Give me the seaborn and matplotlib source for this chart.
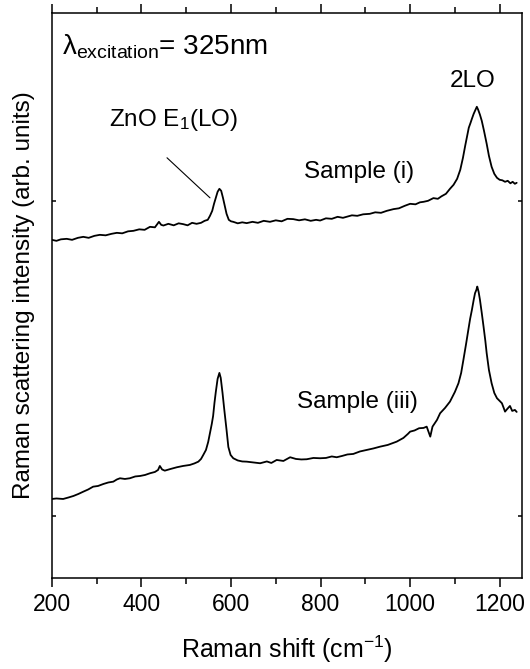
import matplotlib
matplotlib.use("Agg")
import matplotlib.pyplot as plt
from matplotlib.ticker import MultipleLocator
import numpy as np
import pandas as pd
import seaborn as sns

## --- spectra (x in cm^-1, y in arbitrary units)

shift_i = [200, 210, 220, 233, 245, 258, 270, 282, 295, 307, 320, 333, 345, 357,
           370, 382, 395, 407, 419, 430, 439, 444, 449, 460, 472, 483, 493, 503,
           513, 523, 533, 541, 548, 553, 558, 562, 566, 570, 574, 578, 582, 586,
           590, 595, 600, 605, 615, 625, 635, 648, 660, 673, 687, 700, 713, 726,
           739, 752, 765, 778, 790, 799, 812, 825, 838, 850, 858, 870, 882, 895,
           910, 922, 935, 948, 963, 975, 988, 1000, 1012, 1022, 1030, 1040, 1052,
           1062, 1070, 1080, 1089, 1097, 1105, 1112, 1118, 1123, 1127, 1131, 1135,
           1138, 1142, 1146, 1149, 1152, 1156, 1160, 1165, 1171, 1176, 1182, 1188,
           1194, 1200, 1206, 1212, 1218, 1224, 1229, 1234, 1238]
intensity_i = [338, 337, 338.5, 339, 338, 340, 341, 340, 342, 343, 342.5, 344, 345,
               344.5, 346.5, 347, 348.5, 348, 351, 350.5, 356, 353, 352.3, 354,
               352.5, 354.5, 353.7, 352.5, 355, 354, 355, 357, 358, 362, 367, 374,
               380, 386, 389, 387, 380, 372, 364, 358, 356.5, 356, 354.5, 355.5,
               354.7, 356, 355, 357, 356, 357.5, 356.5, 359, 358.7, 357.5, 358.5,
               357, 358, 357.3, 359.5, 359, 361, 360, 361, 362.5, 362, 363.5, 364,
               365.5, 365, 367, 368.7, 369.5, 372, 374, 373.5, 375.5, 376, 377,
               379.7, 379, 381.5, 384, 389, 393, 399, 408, 420, 432, 441, 450, 455,
               459, 464, 468, 471, 468, 463, 457, 447, 434, 422, 411, 404, 400, 398,
               397.5, 396, 397, 394.5, 396, 394, 395]

shift_iii = [200, 210, 225, 237, 248, 259, 270, 281, 292, 303, 315, 326, 337, 345,
             352, 363, 374, 386, 397, 408, 419, 430, 437, 441, 446, 452, 465, 479,
             493, 508, 518, 527, 533, 538, 544, 549, 553, 557, 560, 563, 566, 570,
             574, 577, 581, 585, 590, 594, 599, 605, 615, 625, 635, 650, 665, 680,
             690, 702, 717, 732, 745, 757, 769, 784, 799, 812, 825, 836, 848, 860,
             873, 888, 903, 918, 933, 950, 970, 985, 995, 1000, 1010, 1020, 1030,
             1037, 1045, 1050, 1060, 1067, 1078, 1089, 1100, 1108, 1114, 1119, 1125,
             1130, 1134, 1138, 1142, 1145, 1148, 1150, 1153, 1156, 1160, 1164, 1168,
             1171, 1176, 1182, 1188, 1194, 1200, 1205, 1209, 1212, 1217, 1223, 1228,
             1234, 1238]
intensity_iii = [79, 79.5, 79, 80.5, 82, 84, 86.3, 88.5, 91.3, 92, 94, 95.5, 96.3,
                 98.5, 99.7, 99, 99.7, 101.5, 102, 103, 104.7, 106, 108, 112, 108.5,
                 107.3, 109, 110.7, 112, 113, 114.5, 116.3, 119, 123, 128, 136, 145,
                 154, 162, 175, 186, 199, 205, 200, 185, 168, 148, 131, 123, 119.7,
                 117.5, 116.5, 116.3, 115.5, 114.7, 116.5, 115, 118, 117, 120.7, 119,
                 118.5, 118.7, 120, 119.7, 120, 121.5, 120.7, 122, 123.5, 124, 126.5,
                 128, 129.5, 131.3, 133, 136.3, 140, 144, 146.3, 147.5, 149.7, 150,
                 151.3, 141.3, 151.3, 158, 164.7, 170, 176.3, 186, 194.7, 205, 218,
                 234, 248, 259, 268, 278, 284.7, 288, 291.3, 286, 278, 265, 251.3,
                 237, 224.7, 208, 194.7, 185, 179.7, 177, 174.7, 170, 166.3, 169, 172,
                 167, 168, 166]

df = pd.concat([
    pd.DataFrame({'shift': shift_i, 'intensity': intensity_i, 'sample': 'Sample (i)'}),
    pd.DataFrame({'shift': shift_iii, 'intensity': intensity_iii, 'sample': 'Sample (iii)'}),
])

## --- style

sns.set_theme(style="ticks")
plt.rcParams['font.family'] = ['Liberation Sans', 'DejaVu Sans']
plt.rcParams['mathtext.fontset'] = 'custom'
plt.rcParams['mathtext.rm'] = 'Liberation Sans'
plt.rcParams['mathtext.it'] = 'Liberation Sans:italic'
plt.rcParams['mathtext.bf'] = 'Liberation Sans:bold'
for key in ['text.color', 'axes.labelcolor', 'xtick.color', 'ytick.color',
            'axes.edgecolor']:
    plt.rcParams[key] = 'black'

fig = plt.figure(figsize=(5.3, 6.69), dpi=100)
ax = fig.add_axes([0.098, 0.136, 0.887, 0.845])

sns.lineplot(data=df, x='shift', y='intensity', units='sample', estimator=None,
             color='black', lw=1.3, sort=False, ax=ax)

ax.set_xlim(200, 1250)
ax.set_ylim(0, 565)
ax.xaxis.set_major_locator(MultipleLocator(200))
ax.xaxis.set_minor_locator(MultipleLocator(100))
ax.set_yticks([62, 377])
ax.set_yticklabels([])

for s in ax.spines.values():
    s.set_linewidth(1.1)

ax.tick_params(axis='x', which='major', direction='out', length=6.5, width=1.1,
               labelsize=16.5, pad=4, top=True)
ax.tick_params(axis='x', which='minor', direction='out', length=4, width=1.1,
               top=True)
ax.tick_params(axis='y', which='major', direction='in', length=3, width=1.1,
               right=True)

ax.set_xlabel('Raman shift (cm$^{-1}$)', fontsize=18, labelpad=13)
ax.set_ylabel('Raman scattering intensity (arb. units)', fontsize=17.5, labelpad=9)

## --- annotations

ax.text(222, 523, 'λ$_{\\mathrm{excitation}}$= 325nm', fontsize=20, va='baseline',
        ha='left')
ax.text(472, 452, 'ZnO E$_1$(LO)', fontsize=17.5, va='baseline', ha='center')
ax.plot([457, 553], [420, 380], color='black', lw=0.8)
ax.text(1140, 491, '2LO', fontsize=17.5, va='baseline', ha='center')
ax.text(885, 400, 'Sample (i)', fontsize=17.5, va='baseline', ha='center')
ax.text(882, 170, 'Sample (iii)', fontsize=17.5, va='baseline', ha='center')

fig.savefig('out.png', dpi=100)
